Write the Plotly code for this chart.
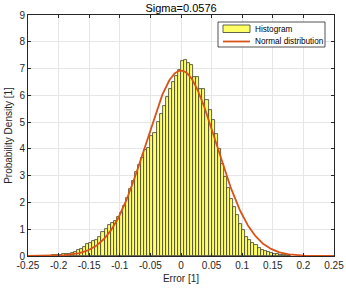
import numpy as np
import plotly.graph_objects as go

# Histogram bin left edges (width 0.005) and probability densities
bin_width = 0.005
bin_left_edges = [round(-0.215 + i * 0.005, 3) for i in range(79)]
densities = [
    0.01, 0.02, 0.03, 0.04, 0.06, 0.07, 0.09, 0.11, 0.15, 0.21,
    0.26, 0.33, 0.43, 0.48, 0.56, 0.61, 0.71,
    0.89, 1.02, 1.15, 1.23, 1.31, 1.46, 1.62, 1.85,
    2.15, 2.51, 2.79, 3.13, 3.38, 3.67, 3.97, 4.02, 4.47, 4.59, 5.00, 5.31, 5.62,
    5.93, 6.25, 6.49, 6.74, 6.93, 7.30, 7.33,
    7.20, 7.15, 6.70, 6.68, 6.25, 6.22, 5.81, 5.45, 5.08, 4.57, 4.00, 3.45, 2.95, 2.53, 2.14,
    1.83, 1.52, 1.21, 0.96, 0.71, 0.59, 0.49, 0.40, 0.30, 0.24, 0.18, 0.14, 0.11, 0.08,
    0.06, 0.04, 0.03, 0.02, 0.01,
]
sigma = 0.0576
mu = 0.0
x_ticks = [-0.25, -0.2, -0.15, -0.1, -0.05, 0, 0.05, 0.1, 0.15, 0.2, 0.25]
x_tick_labels = ["-0.25", "-0.2", "-0.15", "-0.1", "-0.05", "0", "0.05", "0.1", "0.15", "0.2", "0.25"]
y_ticks = [0, 1, 2, 3, 4, 5, 6, 7, 8, 9]
legend_labels = ["Histogram", "Normal distribution"]

n = min(len(bin_left_edges), len(densities))
centers = [e + bin_width / 2 for e in bin_left_edges[:n]]

xc = np.linspace(-0.25, 0.25, 400)
yc = np.exp(-0.5 * ((xc - mu) / sigma) ** 2) / (sigma * np.sqrt(2 * np.pi))

txt = "#262626"
font = "Liberation Sans, Arial, sans-serif"
bar_fill = "#FFFF66"
bar_edge = "#3c3c30"
line_col = "#D95319"

fig = go.Figure()
fig.add_trace(go.Bar(
    x=centers, y=densities[:n], width=bin_width, name=legend_labels[0],
    marker=dict(color=bar_fill, line=dict(color=bar_edge, width=0.8)),
))
fig.add_trace(go.Scatter(
    x=xc, y=yc, mode="lines", name=legend_labels[1],
    line=dict(color=line_col, width=1.8),
))

L, R, T, B = 28, 12, 15, 32
W, H = 346, 288
pw, ph = W - L - R, H - T - B


def px(xp):
    return (xp - L) / pw


def py(yp):
    return (H - B - yp) / ph


shapes = [
    dict(type="rect", xref="paper", yref="paper",
         x0=px(218), x1=px(325), y0=py(47), y1=py(22),
         fillcolor="white", line=dict(color=txt, width=0.8), layer="above"),
    dict(type="rect", xref="paper", yref="paper",
         x0=px(223), x1=px(250), y0=py(32.5), y1=py(25),
         fillcolor=bar_fill, line=dict(color=bar_edge, width=0.8), layer="above"),
    dict(type="line", xref="paper", yref="paper",
         x0=px(223), x1=px(250), y0=py(41.5), y1=py(41.5),
         line=dict(color=line_col, width=1.8), layer="above"),
]
annotations = [
    dict(xref="paper", yref="paper", x=px(252.5), y=py(29), text=legend_labels[0],
         showarrow=False, xanchor="left", yanchor="middle",
         font=dict(size=8.2, color="#000000", family=font)),
    dict(xref="paper", yref="paper", x=px(252.5), y=py(41.5), text=legend_labels[1],
         showarrow=False, xanchor="left", yanchor="middle",
         font=dict(size=8.2, color="#000000", family=font)),
]

fig.update_layout(
    width=W, height=H,
    margin=dict(l=L, r=R, t=T, b=B),
    paper_bgcolor="white", plot_bgcolor="white",
    bargap=0,
    showlegend=False,
    font=dict(family=font, size=10, color=txt),
    title=dict(text="Sigma=0.0576", x=(L + pw / 2) / W, xanchor="center", y=1 - 8.5 / H,
               yanchor="middle", font=dict(size=11, color="#000000")),
    shapes=shapes,
    annotations=annotations,
)
fig.update_xaxes(
    range=[-0.25, 0.25], tickvals=x_ticks, ticktext=x_tick_labels,
    showgrid=True, gridcolor="#e6e6e6", gridwidth=1,
    showline=True, linecolor=txt, linewidth=1, mirror="ticks",
    ticks="inside", ticklen=3, tickcolor=txt,
    zeroline=False, automargin=False,
    title=dict(text="Error [1]", font=dict(size=10, color=txt), standoff=4),
    tickfont=dict(size=10, color=txt),
)
fig.update_yaxes(
    range=[0, 9], tickvals=y_ticks,
    showgrid=True, gridcolor="#e6e6e6", gridwidth=1,
    showline=True, linecolor=txt, linewidth=1, mirror="ticks",
    ticks="inside", ticklen=3, tickcolor=txt,
    zeroline=False, automargin=False,
    title=dict(text="Probability Density [1]", font=dict(size=10, color=txt), standoff=4),
    tickfont=dict(size=10, color=txt),
)

fig.write_html("out.html", config={"displayModeBar": False},
               post_script="document.body.style.margin='0';")
